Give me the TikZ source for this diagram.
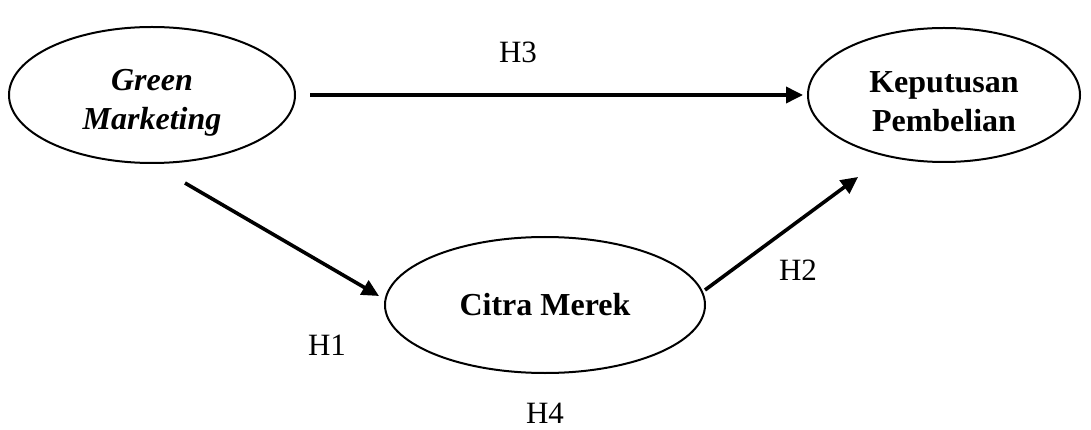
\documentclass[tikz,border=0pt]{standalone}
\usepackage{fontspec}
\setmainfont{Liberation Serif}
\usetikzlibrary{shapes.geometric,arrows.meta}
\begin{document}
\begin{tikzpicture}[x=1pt,y=-1pt,
  var/.style={draw,line width=2pt,ellipse,inner sep=0pt,align=center,font=\fontsize{32}{37}\selectfont},
  path/.style={line width=3.6pt,-{Triangle[length=17pt,width=16pt]}},
  lab/.style={font=\fontsize{31}{36}\selectfont}]
\useasboundingbox (0,0) rectangle (1091,430);
\node[var,minimum width=286pt,minimum height=136pt] (gm) at (152,95) {\rule{0pt}{36pt}\bfseries\itshape Green\\[2pt]\bfseries\itshape Marketing};
\node[var,minimum width=272pt,minimum height=134pt] (kp) at (944,95) {\rule{0pt}{34pt}\bfseries Keputusan\\[2pt]\bfseries Pembelian};
\node[var,minimum width=320pt,minimum height=136pt] (cm) at (545,305) {\bfseries Citra Merek};
\coordinate (h3s) at (310,95);
\coordinate (h3e) at (803,95);
\coordinate (h1s) at (185,183);
\coordinate (h1e) at (379,296);
\coordinate (h2s) at (705,290);
\coordinate (h2e) at (858,177);
\draw[path] (h3s) -- (h3e);
\draw[path] (h1s) -- (h1e);
\draw[path] (h2s) -- (h2e);
\node[lab] (l3) at (518,52) {H3};
\node[lab] (l1) at (327,345) {H1};
\node[lab] (l2) at (798,270) {H2};
\node[lab] (l4) at (545,413) {H4};
\end{tikzpicture}
\end{document}
